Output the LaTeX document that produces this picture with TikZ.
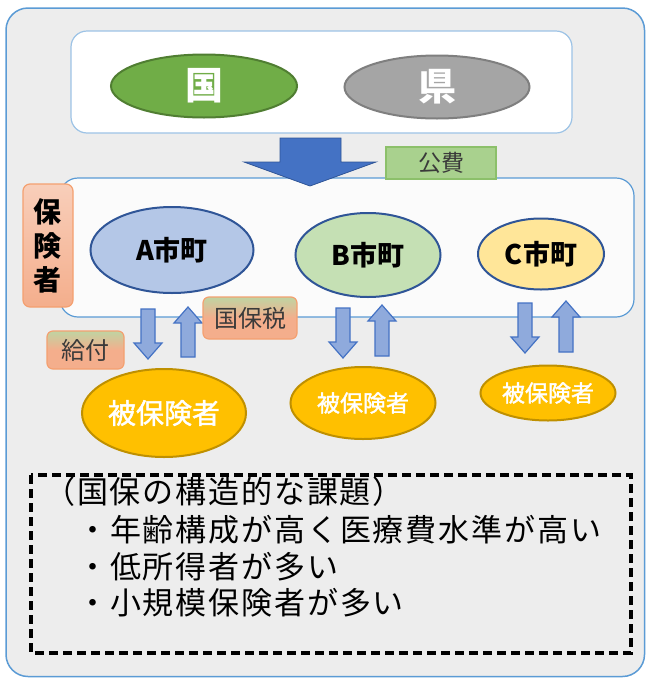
\documentclass[tikz,border=0pt]{standalone}
\usepackage{fontspec}
\setmainfont{Noto Sans CJK JP}
\newfontfamily\jplist[LetterSpace=6]{Noto Sans CJK JP}
\newfontfamily\jpmed[FakeBold=1.6]{Noto Sans CJK JP}
\usetikzlibrary{shapes.geometric}
\definecolor{outerfill}{HTML}{EDEDED}
\definecolor{boxblue}{HTML}{5B9BD5}
\definecolor{lightblue}{HTML}{9DC3E6}
\definecolor{kunifill}{HTML}{70AD47}
\definecolor{kuniline}{HTML}{507E32}
\definecolor{kenfill}{HTML}{A5A5A5}
\definecolor{kenline}{HTML}{7F7F7F}
\definecolor{bigarrow}{HTML}{4472C4}
\definecolor{bigarrowline}{HTML}{2F5597}
\definecolor{koufill}{HTML}{A9D18E}
\definecolor{kouline}{HTML}{8CC06A}
\definecolor{salmon}{HTML}{F4AE8C}
\definecolor{salmontop}{HTML}{BFD4A2}
\definecolor{salmonline}{HTML}{F4A070}
\definecolor{afill}{HTML}{B4C7E7}
\definecolor{bfill}{HTML}{C5E0B4}
\definecolor{cfill}{HTML}{FFE699}
\definecolor{cityline}{HTML}{2F5597}
\definecolor{smallarrow}{HTML}{8FAADC}
\definecolor{smallarrowline}{HTML}{4472C4}
\definecolor{hifill}{HTML}{FFC000}
\definecolor{hiline}{HTML}{BF9000}
\definecolor{labeltext}{HTML}{3A3A3A}
\tikzset{
  ovalnode/.style={ellipse, inner sep=0pt, line width=2pt},
  citynode/.style={ovalnode, draw=cityline, font=\fontsize{27}{30}\selectfont\bfseries, text=black},
  hinode/.style={ovalnode, draw=hiline, fill=hifill, text=white},
  tagbox/.style={rectangle, rounded corners=6pt, inner sep=0pt, line width=1.2pt,
     draw=salmonline, top color=salmontop, bottom color=salmon, middle color=salmon,
     text=labeltext, font=\fontsize{24}{26}\selectfont},
  smallarr/.style={fill=smallarrow, draw=smallarrowline, line width=1.2pt},
  listline/.style={anchor=west, inner sep=0pt, font=\jplist\fontsize{31}{34}\selectfont, text=black}
}
\newcommand{\dnarr}[3]{\draw[smallarr] (#1-7,#2) -- (#1+7,#2) -- (#1+7,#3-16) -- (#1+14,#3-16) -- (#1,#3) -- (#1-14,#3-16) -- (#1-7,#3-16) -- cycle;}
\newcommand{\uparr}[3]{\draw[smallarr] (#1-7,#3) -- (#1+7,#3) -- (#1+7,#2+16) -- (#1+14,#2+16) -- (#1,#2) -- (#1-14,#2+16) -- (#1-7,#2+16) -- cycle;}
\begin{document}
\begin{tikzpicture}[x=1pt,y=-1pt]
\useasboundingbox (0,0) rectangle (646,678);
% outer panel
\draw[fill=outerfill, draw=boxblue, line width=1.5pt, rounded corners=22pt] (6,8) rectangle (644.5,676.5);
% top box
\node[rectangle, rounded corners=16pt, fill=white, draw=lightblue, line width=1.2pt,
      minimum width=501pt, minimum height=102pt] (top) at (321.5,82) {};
\node[ovalnode, fill=kunifill, draw=kuniline, minimum width=186pt, minimum height=63pt,
      text=white, font=\fontsize{38}{40}\selectfont\bfseries] (kuni) at (204,86) {国};
\node[ovalnode, fill=kenfill, draw=kenline, minimum width=185pt, minimum height=63pt,
      text=white, font=\fontsize{38}{40}\selectfont\bfseries] (ken) at (437,87) {県};
% middle box
\node[rectangle, rounded corners=18pt, fill=white!97!gray, draw=boxblue, line width=1.2pt,
      minimum width=574pt, minimum height=139pt] (mid) at (347,247.5) {};
% big arrow
\draw[fill=bigarrow, draw=bigarrowline, line width=0.8pt] (280,138) -- (341,138) -- (341,162) -- (376,162) -- (310,186) -- (244,162) -- (280,162) -- cycle;
\node[rectangle, fill=koufill, draw=kouline, line width=1.2pt, minimum width=110pt, minimum height=32pt,
      inner sep=0pt, text=labeltext, font=\fontsize{23}{25}\selectfont] (kouhi) at (441,163) {公費};
% insurer label
\node[rectangle, rounded corners=7pt, draw=salmonline, line width=1.2pt, top color=salmon!60!white, bottom color=salmon,
      minimum width=50pt, minimum height=123pt, inner sep=0pt, align=center,
      font=\fontsize{28}{34}\selectfont\bfseries, text=black] (hokensha) at (48,245.5) {保\\険\\者};
% cities
\node[citynode, fill=afill, minimum width=163pt, minimum height=86pt] (A) at (172,250) {A市町};
\node[citynode, fill=bfill, minimum width=145pt, minimum height=84pt] (B) at (368,255) {B市町};
\node[citynode, fill=cfill, minimum width=126pt, minimum height=71pt] (C) at (541,254) {C市町};
% small arrows
\dnarr{148}{309}{359}
\uparr{188}{307}{357}
\dnarr{343}{308}{358}
\uparr{382}{305}{356}
\dnarr{525}{303}{353}
\uparr{566}{301}{352}
% tags
\node[tagbox, minimum width=94pt, minimum height=42pt] (zei) at (250,318) {国保税};
\node[tagbox, minimum width=77pt, minimum height=38pt] (kyufu) at (85.5,350) {給付};
% insured
\node[hinode, minimum width=164pt, minimum height=88pt, font=\jpmed\fontsize{28}{30}\selectfont] (hA) at (164,413) {被保険者};
\node[hinode, minimum width=145pt, minimum height=72pt, font=\jpmed\fontsize{23}{25}\selectfont] (hB) at (363,403) {被保険者};
\node[hinode, minimum width=135pt, minimum height=55pt, font=\jpmed\fontsize{23}{25}\selectfont] (hC) at (548,393) {被保険者};
% issues box
\draw[draw=black, line width=3.2pt, dash pattern=on 9pt off 5pt] (31,475) rectangle (631,653);
\node[listline] (l1) at (44,492) {（国保の構造的な課題）};
\node[listline] (l2) at (77,530) {・年齢構成が高く医療費水準が高い};
\node[listline] (l3) at (77,567) {・低所得者が多い};
\node[listline] (l4) at (77,603) {・小規模保険者が多い};
\end{tikzpicture}
\end{document}
